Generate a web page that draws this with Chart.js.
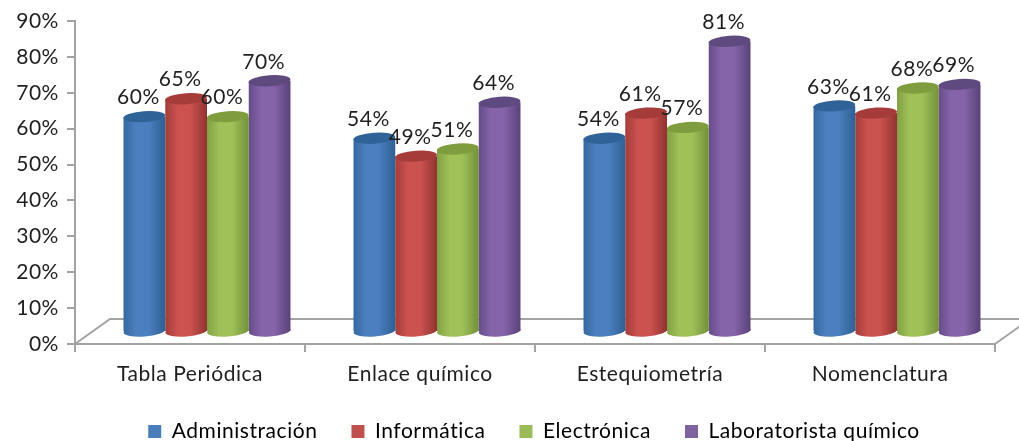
<!DOCTYPE html>
<html lang="es">
<head>
<meta charset="utf-8">
<title>Resultados por tema y carrera</title>
<style>
  html, body { margin: 0; padding: 0; background: #fff; }
  #wrap { width: 1019px; height: 441px; }
</style>
<script src="https://cdn.jsdelivr.net/npm/chart.js@4/dist/chart.umd.min.js"></script>
</head>
<body>
<div id="wrap"><canvas id="chart" width="1019" height="441"></canvas></div>
<script>
const categories = ['Tabla Periódica', 'Enlace químico', 'Estequiometría', 'Nomenclatura'];
const administracion = [60, 54, 54, 63];
const informatica = [65, 49, 61, 61];
const electronica = [60, 51, 57, 68];
const laboratorista = [70, 64, 81, 69];
const seriesNames = ['Administración', 'Informática', 'Electrónica', 'Laboratorista químico'];
const yTicks = [0, 10, 20, 30, 40, 50, 60, 70, 80, 90];

// Cylinder shading per series: edge, highlight, far edge, top cap, legend swatch
const shades = [
  { l: '#37689f', m: '#4a80bf', r: '#2f5f94', cap: '#2f6296', key: '#4a7ebb' },
  { l: '#a33d3a', m: '#cb524f', r: '#913331', cap: '#a63c3a', key: '#c0504d' },
  { l: '#83a144', m: '#9fc158', r: '#73903a', cap: '#7f9c3f', key: '#9bbb59' },
  { l: '#664c89', m: '#8664aa', r: '#5a4279', cap: '#5f4a80', key: '#7f63a1' }
];
const AXIS = '#a3a3a3';
const INK = '#1f1f1f';
const FONT = 'Lato, "Open Sans", sans-serif';
const FONT_SIZE = 21;
const CAT_SHARE = 0.726;

// The columns stand on a floor set back from the front edge of the axes
const DEPTH = { x: 17, y: -12 };
const FLOOR = { x: 35, y: -25 };
const LEGEND_SHIFT_X = 21;

function cylinderFill(c) {
  const s = shades[c.datasetIndex];
  if (c.type !== 'data' || !c.chart.chartArea) return s.key;
  const xs = c.chart.scales.x;
  const w = xs.width / categories.length * CAT_SHARE / seriesNames.length;
  const left = xs.getPixelForValue(c.dataIndex) + (c.datasetIndex - 2) * w;
  const g = c.chart.ctx.createLinearGradient(left, 0, left + w, 0);
  g.addColorStop(0, s.l);
  g.addColorStop(0.3, s.m);
  g.addColorStop(0.6, s.m);
  g.addColorStop(1, s.r);
  return g;
}

function ellipse(ctx, x, y, rx, ry, fill) {
  ctx.beginPath();
  ctx.ellipse(x, y, rx, ry, -0.07, 0, Math.PI * 2);
  ctx.fillStyle = fill;
  ctx.fill();
}

const floorPlugin = {
  id: 'floor',
  afterLayout(chart) {
    // Centre the legend under the columns instead of under the whole canvas
    chart.legend.left += LEGEND_SHIFT_X * 2;
  },
  beforeDraw(chart) {
    const { ctx, chartArea: a } = chart;
    ctx.letterSpacing = '0.55px';
    ctx.save();
    ctx.strokeStyle = AXIS;
    ctx.lineWidth = 2;
    ctx.beginPath();
    ctx.moveTo(a.left, a.bottom);
    ctx.lineTo(a.left + FLOOR.x, a.bottom + FLOOR.y);
    ctx.lineTo(chart.width, a.bottom + FLOOR.y);
    ctx.moveTo(a.right, a.bottom);
    ctx.lineTo(a.right + FLOOR.x, a.bottom + FLOOR.y);
    ctx.stroke();
    ctx.restore();
  }
};

const cylinderPlugin = {
  id: 'cylinders',
  beforeDatasetsDraw(chart) {
    const ctx = chart.ctx;
    ctx.save();
    ctx.translate(DEPTH.x, DEPTH.y);
    chart.data.datasets.forEach((d, i) => {
      chart.getDatasetMeta(i).data.forEach(bar => {
        ellipse(ctx, bar.x, bar.base, bar.width / 2, 5.5, bar.options.backgroundColor);
      });
    });
  },
  afterDatasetsDraw(chart) {
    const ctx = chart.ctx;
    chart.data.datasets.forEach((d, i) => {
      chart.getDatasetMeta(i).data.forEach(bar => {
        ellipse(ctx, bar.x, bar.y, bar.width / 2, 5.5, shades[i].cap);
      });
    });
    ctx.fillStyle = INK;
    ctx.font = FONT_SIZE + 'px ' + FONT;
    ctx.textAlign = 'center';
    ctx.textBaseline = 'middle';
    chart.data.datasets.forEach((d, i) => {
      chart.getDatasetMeta(i).data.forEach((bar, j) => {
        ctx.fillText(d.data[j] + '%', bar.x - 6, bar.y - 19);
      });
    });
    ctx.restore();
  }
};

new Chart(document.getElementById('chart'), {
  type: 'bar',
  data: {
    labels: categories,
    datasets: [administracion, informatica, electronica, laboratorista].map((values, i) => ({
      label: seriesNames[i],
      data: values,
      backgroundColor: cylinderFill,
      borderWidth: 0,
      barPercentage: 1,
      categoryPercentage: CAT_SHARE,
      clip: false
    }))
  },
  options: {
    responsive: false,
    animation: false,
    layout: { padding: { top: 21, right: 24, bottom: -11, left: 0 } },
    plugins: {
      tooltip: { enabled: false },
      legend: {
        position: 'bottom',
        labels: {
          boxWidth: 13,
          boxHeight: 13,
          padding: 34,
          color: INK,
          font: { family: FONT, size: FONT_SIZE },
          generateLabels: () => seriesNames.map((text, i) => ({
            text, fillStyle: shades[i].key, strokeStyle: shades[i].key, lineWidth: 0, datasetIndex: i
          }))
        }
      }
    },
    scales: {
      x: {
        afterFit(s) { s.height = 43; },
        grid: { drawOnChartArea: false, drawTicks: true, tickLength: 8, tickColor: AXIS, lineWidth: 2 },
        border: { color: AXIS, width: 2 },
        ticks: { color: INK, padding: 10, maxRotation: 0, font: { family: FONT, size: FONT_SIZE } }
      },
      y: {
        min: 0,
        max: 90,
        afterFit(s) { s.width = 75; },
        afterBuildTicks(s) { s.ticks = yTicks.map(value => ({ value })); },
        grid: { drawOnChartArea: false, drawTicks: true, tickLength: 8, tickColor: AXIS, lineWidth: 2 },
        border: { color: AXIS, width: 2 },
        ticks: { color: INK, padding: 8, font: { family: FONT, size: FONT_SIZE }, callback: v => v + '%' }
      }
    }
  },
  plugins: [floorPlugin, cylinderPlugin]
});
</script>
</body>
</html>
